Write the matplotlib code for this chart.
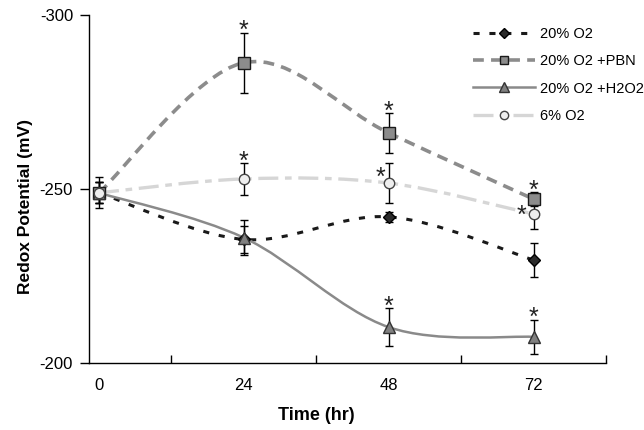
import matplotlib
matplotlib.use("Agg")
import matplotlib.pyplot as plt
from matplotlib.path import Path
from matplotlib.patches import PathPatch
import numpy as np

plt.rcParams['font.family'] = ['Liberation Sans', 'DejaVu Sans']

# ---- data ----
hours = [0, 24, 48, 72]
hour_labels = ["0", "24", "48", "72"]

o2_20 = [-248.9, -235.5, -242.0, -229.6]
o2_20_err = [4.5, 4.0, 1.5, 5.0]

o2_20_pbn = [-248.9, -286.3, -266.1, -247.1]
o2_20_pbn_err = [3.0, 8.6, 5.7, 2.0]

o2_20_h2o2 = [-248.9, -236.0, -210.3, -207.5]
o2_20_h2o2_err = [3.0, 5.0, 5.5, 5.0]

o2_6 = [-248.9, -252.9, -251.7, -242.8]
o2_6_err = [3.0, 4.6, 5.7, 4.3]

series_names = ["20% O2", "20% O2 +PBN", "20% O2 +H2O2", "6% O2"]

# significance stars: (series index, point index)
stars = [(1, 1), (1, 2), (1, 3), (3, 1), (3, 2), (3, 3), (2, 2), (2, 3)]


def smooth_path(xs, ys):
    """Excel-like smoothed line (Catmull-Rom as cubic Bezier)."""
    pts = np.column_stack([xs, ys]).astype(float)
    n = len(pts)
    verts = [pts[0]]
    codes = [Path.MOVETO]
    for i in range(n - 1):
        p0 = pts[i - 1] if i > 0 else pts[i]
        p1 = pts[i]
        p2 = pts[i + 1]
        p3 = pts[i + 2] if i + 2 < n else pts[i + 1]
        c1 = p1 + (p2 - p0) / 6.0
        c2 = p2 - (p3 - p1) / 6.0
        verts += [c1, c2, p2]
        codes += [Path.CURVE4] * 3
    return Path(verts, codes)


fig = plt.figure(figsize=(6.44, 4.30), dpi=100)
ax = fig.add_axes([89 / 644, 1 - 363 / 430, (606 - 89) / 644, (363 - 15) / 430])

ys_all = [o2_20, o2_20_pbn, o2_20_h2o2, o2_6]
errs_all = [o2_20_err, o2_20_pbn_err, o2_20_h2o2_err, o2_6_err]

styles = [
    dict(color="#1a1a1a", lw=2.2, dashes=(2, 3.2), marker="D", ms=6.5, mfc="#2b2b2b", mec="#000000"),
    dict(color="#8c8c8c", lw=2.6, dashes=(3, 2), marker="s", ms=8, mfc="#8c8c8c", mec="#1a1a1a"),
    dict(color="#8a8a8a", lw=1.8, dashes=None, marker="^", ms=9, mfc="#808080", mec="#333333"),
    dict(color="#d6d6d6", lw=2.4, dashes=(6, 2, 2, 2), marker="o", ms=7.5, mfc="#eeeeee", mec="#444444"),
]

handles = []
for ys, errs, st, name in zip(ys_all, errs_all, styles, series_names):
    path = smooth_path(hours, ys)
    patch = PathPatch(path, facecolor="none", edgecolor=st["color"], lw=st["lw"],
                      linestyle=(0, st["dashes"]) if st["dashes"] else "-",
                      capstyle="butt", zorder=2)
    ax.add_patch(patch)
    ax.errorbar(hours, ys, yerr=errs, fmt="none", ecolor="black", elinewidth=1,
                capsize=3.2, capthick=1, zorder=4)
    ax.plot(hours, ys, linestyle="none", marker=st["marker"], ms=st["ms"],
            mfc=st["mfc"], mec=st["mec"], mew=1, zorder=5)
    h, = ax.plot([], [], color=st["color"], lw=st["lw"],
                 linestyle=(0, st["dashes"]) if st["dashes"] else "-",
                 marker=st["marker"], ms=st["ms"] * 0.8, mfc=st["mfc"], mec=st["mec"], mew=1)
    handles.append(h)

# stars
star_offsets = {(3, 2): (-6, 4), (3, 3): (-9, -1)}
for si, pi in stars:
    x = hours[pi]
    y = ys_all[si][pi]
    e = errs_all[si][pi]
    if (si, pi) in star_offsets:
        dx, dy = star_offsets[(si, pi)]
        ax.annotate("*", xy=(x, y), xytext=(dx, dy), textcoords="offset points",
                    ha="center", va="center", fontsize=18, color="#222222", zorder=6)
    else:
        ax.annotate("*", xy=(x, y - e), xytext=(0, 1), textcoords="offset points",
                    ha="center", va="center", fontsize=18, color="#222222", zorder=6)

ax.set_xlim(-1.66, 84)
ax.set_ylim(-200, -300)

ax.set_yticks([-300, -250, -200])
ax.set_yticklabels(["-300", "-250", "-200"], fontsize=12)
ax.tick_params(axis="y", direction="out", length=6.5, width=1, pad=5)

ax.set_xticks([12, 36, 60, 84])
ax.set_xticklabels([])
ax.tick_params(axis="x", which="major", direction="in", length=6, width=1)
ax.set_xticks(hours, minor=True)
ax.set_xticklabels(hour_labels, minor=True, fontsize=12)
ax.tick_params(axis="x", which="minor", length=0, pad=11)

for s in ["top", "right"]:
    ax.spines[s].set_visible(False)
for s in ["left", "bottom"]:
    ax.spines[s].set_linewidth(1)

ax.set_xlabel("Time (hr)", fontsize=13, fontweight="bold")
ax.xaxis.set_label_coords((316 - 89) / 517, -0.125)
ax.set_ylabel("Redox Potential (mV)", fontsize=12.5, fontweight="bold")
ax.yaxis.set_label_coords(-0.108, 0.451)

leg = fig.legend(handles, series_names, loc="upper left",
                 bbox_to_anchor=(466 / 644, 1 - 20 / 430), frameon=False,
                 fontsize=10.5, handlelength=4.2, handletextpad=0.35,
                 labelspacing=0.9, borderpad=0, numpoints=1)

fig.savefig("out.png", dpi=100)
